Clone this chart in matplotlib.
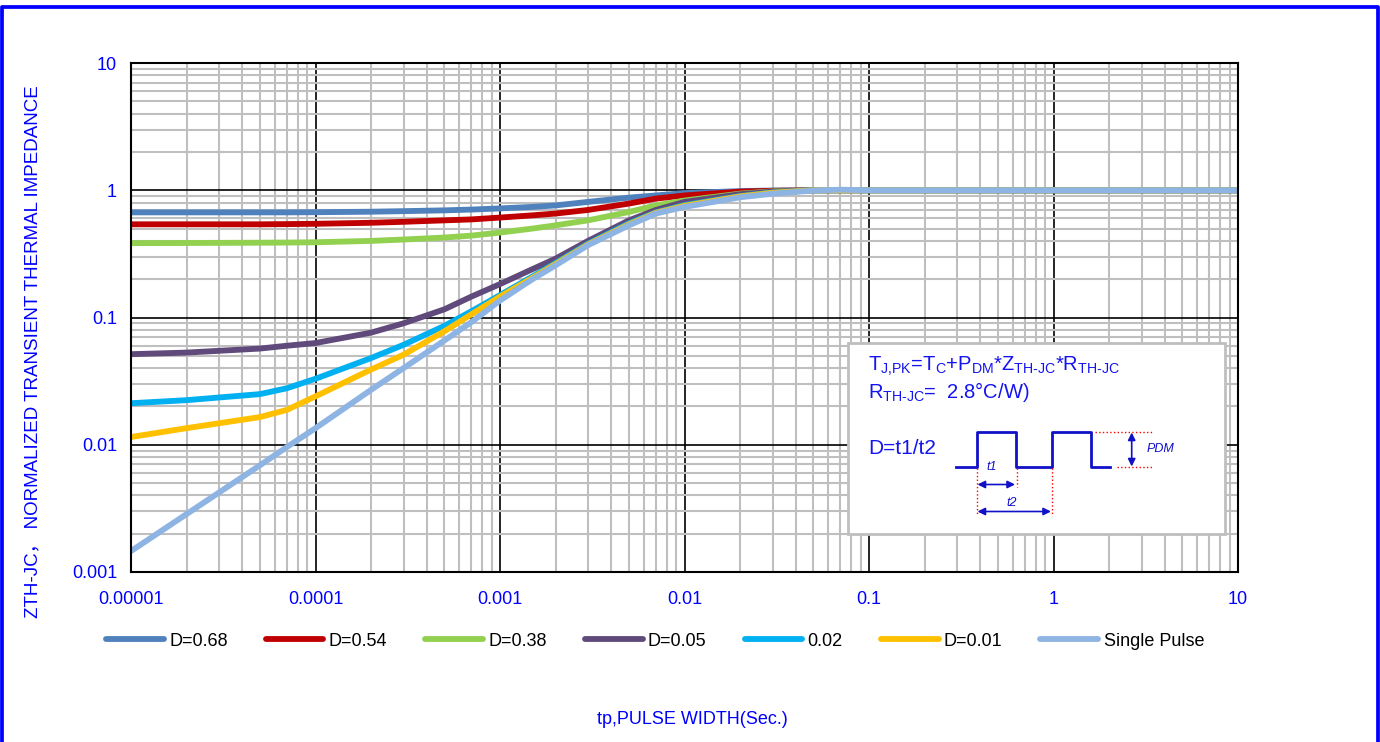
import matplotlib
matplotlib.use("Agg")
import matplotlib.pyplot as plt
from matplotlib.lines import Line2D
from matplotlib.patches import Rectangle
from matplotlib.ticker import LogLocator, NullFormatter

plt.rcParams['font.family'] = ['Liberation Sans', 'Noto Sans CJK SC', 'DejaVu Sans']
plt.rcParams['mathtext.fontset'] = 'custom'
plt.rcParams['mathtext.rm'] = 'Liberation Sans'
plt.rcParams['mathtext.it'] = 'Liberation Sans:italic'

# pulse width (s)
tp = [1e-5, 2e-5, 5e-5, 7e-5, 1e-4, 2e-4, 3e-4, 5e-4, 7e-4, 1e-3, 1.5e-3, 2e-3,
      3e-3, 5e-3, 7e-3, 1e-2, 2e-2, 3e-2, 5e-2, 7e-2, 1e-1, 1, 10]

d068 = [0.67, 0.67, 0.67, 0.67, 0.672, 0.678, 0.685, 0.695, 0.705, 0.72, 0.74, 0.76,
        0.81, 0.875, 0.91, 0.95, 0.985, 0.995, 1.0, 1.0, 1.0, 1.0, 1.0]
d054 = [0.54, 0.54, 0.54, 0.542, 0.545, 0.555, 0.565, 0.58, 0.59, 0.61, 0.635, 0.656,
        0.70, 0.786, 0.86, 0.91, 0.975, 0.99, 1.0, 1.0, 1.0, 1.0, 1.0]
d038 = [0.384, 0.385, 0.387, 0.388, 0.39, 0.40, 0.41, 0.425, 0.44, 0.465, 0.50, 0.53,
        0.58, 0.675, 0.76, 0.83, 0.94, 0.98, 1.0, 1.0, 1.0, 1.0, 1.0]
d005 = [0.0515, 0.053, 0.057, 0.06, 0.063, 0.076, 0.09, 0.116, 0.146, 0.183, 0.24, 0.29,
        0.40, 0.58, 0.70, 0.81, 0.93, 0.975, 1.0, 1.0, 1.0, 1.0, 1.0]
d002 = [0.0212, 0.0224, 0.025, 0.0278, 0.033, 0.048, 0.061, 0.086, 0.112, 0.15, 0.21, 0.268,
        0.38, 0.55, 0.67, 0.765, 0.90, 0.96, 1.0, 1.0, 1.0, 1.0, 1.0]
d001 = [0.0115, 0.0135, 0.0165, 0.0188, 0.024, 0.039, 0.051, 0.078, 0.106, 0.146, 0.205, 0.263,
        0.375, 0.54, 0.665, 0.755, 0.895, 0.955, 1.0, 1.0, 1.0, 1.0, 1.0]
single = [0.00146, 0.00285, 0.0069, 0.0096, 0.0135, 0.027, 0.04, 0.066, 0.092, 0.136, 0.2, 0.257,
          0.37, 0.53, 0.656, 0.74, 0.88, 0.94, 0.995, 1.01, 1.0, 1.0, 1.0]

series = [
    ("D=0.68", d068, "#4F81BD"),
    ("D=0.54", d054, "#C00000"),
    ("D=0.38", d038, "#92D050"),
    ("D=0.05", d005, "#604A7B"),
    ("0.02", d002, "#00B0F0"),
    ("D=0.01", d001, "#FFC000"),
    ("Single Pulse", single, "#8EB4E3"),
]

xticks = [1e-5, 1e-4, 1e-3, 1e-2, 1e-1, 1, 10]
xlabels = ["0.00001", "0.0001", "0.001", "0.01", "0.1", "1", "10"]
yticks = [1e-3, 1e-2, 1e-1, 1, 10]
ylabels = ["0.001", "0.01", "0.1", "1", "10"]

W, H = 1380, 742
fig = plt.figure(figsize=(13.8, 7.42), dpi=100)
ax = fig.add_axes([131 / W, 1 - 572 / H, (1238 - 131) / W, (572 - 63) / H])

handles = []
for name, vals, col in series:
    ln, = ax.plot(tp, vals, color=col, lw=4.2, solid_capstyle='round', label=name)
    handles.append(ln)

ax.set_xscale('log')
ax.set_yscale('log')
ax.set_xlim(1e-5, 10)
ax.set_ylim(1e-3, 10)
ax.set_xticks(xticks, xlabels)
ax.set_yticks(yticks, ylabels)
ax.xaxis.set_minor_locator(LogLocator(base=10, subs=range(2, 10), numticks=20))
ax.yaxis.set_minor_locator(LogLocator(base=10, subs=range(2, 10), numticks=20))
ax.xaxis.set_minor_formatter(NullFormatter())
ax.yaxis.set_minor_formatter(NullFormatter())
ax.tick_params(which='both', length=0, labelsize=13, labelcolor='blue')
ax.tick_params(axis='x', pad=14)
ax.tick_params(axis='y', pad=10)
ax.set_axisbelow(True)
ax.grid(which='minor', color='#BFBFBF', lw=1.5)
ax.grid(which='major', color='black', lw=1.2)
for s in ax.spines.values():
    s.set_color('black')
    s.set_linewidth(1.5)

fig.text(33 / W, 1 - 352 / H, "ZTH-JC， NORMALIZED TRANSIENT THERMAL IMPEDANCE",
         rotation=90, ha='center', va='center', color='blue', fontsize=13.5)
fig.text(692 / W, 1 - 720 / H, "tp,PULSE WIDTH(Sec.)", ha='center', va='center',
         color='blue', fontsize=13)

fig.legend(handles=handles, loc='center', bbox_to_anchor=(655 / W, 1 - 641 / H), ncol=7,
           frameon=False, fontsize=13, handlelength=3.2, handletextpad=0.3,
           columnspacing=2.1)

# overlay in pixel coordinates for the inset note and the frame
ov = fig.add_axes([0, 0, 1, 1], zorder=5)
ov.set_xlim(0, W)
ov.set_ylim(H, 0)
ov.axis('off')
ov.patch.set_alpha(0)

ov.add_patch(Rectangle((848, 343), 1225 - 848, 534 - 343, facecolor='white',
                       edgecolor='#BFBFBF', lw=2))
tcol = '#1414F0'
ov.text(868, 371, r'$\text{T}_{\text{J,PK}}\text{=T}_{\text{C}}\text{+P}_{\text{DM}}'
        r'\text{*Z}_{\text{TH-JC}}\text{*R}_{\text{TH-JC}}$',
        color=tcol, fontsize=14.5, va='baseline', ha='left')
ov.text(868, 398, r'$\text{R}_{\text{TH-JC}}\text{=  2.8°C/W)}$',
        color=tcol, fontsize=14.5, va='baseline', ha='left')
ov.text(868, 454, "D=t1/t2", color=tcol, fontsize=15, va='baseline', ha='left')

wcol = '#1010C8'
wx = [956, 976.7, 976.7, 1015.7, 1015.7, 1052, 1052, 1090.7, 1090.7, 1110]
wy = [467, 467, 432, 432, 467, 467, 432, 432, 467, 467]
ov.plot(wx, wy, color=wcol, lw=2)
dot = dict(color='red', lw=1, ls=':')
ov.plot([976.7, 976.7], [468, 515], **dot)
ov.plot([1016.7, 1016.7], [468, 487], **dot)
ov.plot([1052, 1052], [468, 515], **dot)
ov.plot([1095, 1152], [432, 432], **dot)
ov.plot([1117, 1152], [467, 467], **dot)
arr = dict(arrowstyle='<|-|>', color=wcol, lw=1.2, mutation_scale=11,
           shrinkA=0, shrinkB=0)
ov.annotate('', xy=(977.5, 484.5), xytext=(1015, 484.5), arrowprops=arr)
ov.annotate('', xy=(977.5, 511.5), xytext=(1051, 511.5), arrowprops=arr)
ov.annotate('', xy=(1131.7, 432.5), xytext=(1131.7, 466.5), arrowprops=arr)
ov.text(992, 467, "t1", color=wcol, fontsize=9, style='italic', ha='center', va='center')
ov.text(1012, 503, "t2", color=wcol, fontsize=9, style='italic', ha='center', va='center')
ov.text(1147, 449, "PDM", color=wcol, fontsize=9, style='italic', ha='left', va='center')

# blue outer frame
ov.add_line(Line2D([1.5, 1.5, 1377.5, 1377.5], [H + 5, 6.5, 6.5, H + 5], color='blue', lw=2.7))

fig.savefig("out.png", dpi=100)
